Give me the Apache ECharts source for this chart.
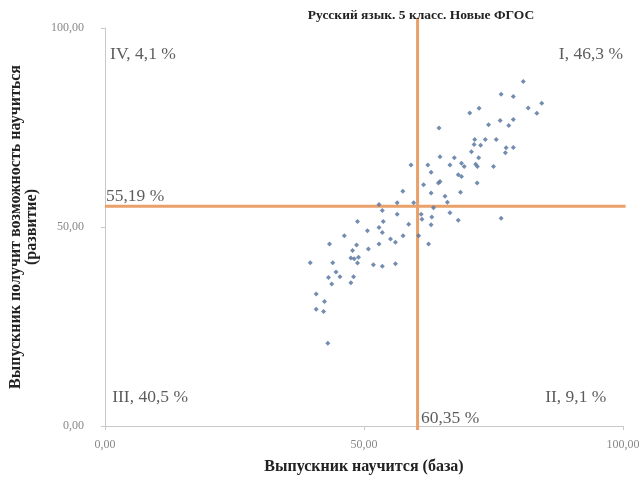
<!DOCTYPE html>
<html>
<head>
<meta charset="utf-8">
<script src="https://cdn.jsdelivr.net/npm/echarts@6/dist/echarts.min.js"></script>
<style>html,body{margin:0;padding:0;background:#fff;}#c{width:644px;height:480px;}</style>
</head>
<body>
<div id="c"></div>
<script>
var titleText = 'Русский язык. 5 класс. Новые ФГОС';
var xAxisName = 'Выпускник научится (база)';
var yAxisName = 'Выпускник получит возможность научиться\n(развитие)';
var xTicks = [0, 50, 100];
var yTicks = [0, 50, 100];
var xCut = 60.35;
var yCut = 55.19;
var xs = [80.75,76.48,78.83,72.22,70.42,81.70,84.32,83.37,76.29,78.83,77.95,74.05,64.49,71.38,73.42,75.53,71.26,72.52,78.83,77.44,77.30,70.75,64.68,67.44,72.14,66.60,68.83,69.35,71.57,71.89,75.01,59.08,62.33,62.96,68.20,68.83,64.68,64.38,61.51,71.84,57.50,62.96,68.64,65.64,66.10,56.41,59.60,52.91,63.42,53.54,56.41,61.05,61.19,63.10,66.60,68.20,76.48,48.76,53.73,58.64,62.96,50.67,52.91,53.54,46.21,55.12,57.55,60.55,43.35,47.80,50.86,52.91,56.08,62.47,48.57,47.48,48.95,48.13,39.64,43.98,48.76,51.82,53.54,56.08,44.61,43.16,45.37,47.99,43.79,47.48,40.78,42.39,40.78,42.20,43.02];
var ys = [86.53,83.37,82.80,79.83,78.66,79.90,81.07,78.59,76.75,77.00,75.51,75.68,74.86,71.96,71.96,71.96,70.72,70.55,69.98,69.90,68.66,68.91,67.67,67.42,67.42,65.58,66.00,65.19,65.76,65.19,65.19,65.58,65.58,63.77,63.10,62.70,61.46,61.04,60.62,61.04,58.98,58.56,58.73,57.74,56.25,56.08,56.08,55.66,54.84,54.17,53.18,53.18,51.94,52.53,53.60,51.69,52.18,51.36,51.36,50.69,50.55,49.06,49.88,48.64,47.82,46.97,47.82,47.82,45.73,44.09,44.49,45.73,46.15,45.73,45.48,42.18,42.43,42.01,41.02,41.02,40.94,40.52,40.12,40.77,38.71,37.30,37.47,37.47,35.66,35.98,33.18,31.27,29.35,28.78,20.77];
var quadLabels = ['IV, 4,1 %', 'I, 46,3 %', 'III, 40,5 %', 'II, 9,1 %'];
var cutLabels = ['55,19 %', '60,35 %'];

var serif = '"Liberation Serif", "DejaVu Serif", serif';
function fmt(v){ return v.toFixed(2).replace('.', ','); }

var pts = xs.map(function(x,i){ return [x, ys[i]]; });
var labelPts = [
  {value:[1.0, 93.3], text: quadLabels[0], align:'left'},
  {value:[100, 93.3], text: quadLabels[1], align:'right'},
  {value:[1.4, 7.2], text: quadLabels[2], align:'left'},
  {value:[96.8, 7.2], text: quadLabels[3], align:'right'},
  {value:[0.2, 57.6], text: cutLabels[0], align:'left'},
  {value:[61.0, 1.8], text: cutLabels[1], align:'left'}
];

var chart = echarts.init(document.getElementById('c'), null, {renderer:'canvas'});
chart.setOption({
  backgroundColor:'#fff',
  animation:false,
  title:{text:titleText, left:416, top:4, textAlign:'center',
    textStyle:{fontFamily:serif, fontSize:13.5, fontWeight:'bold', color:'#222'}},
  grid:{left:100, right:21, top:28, bottom:49},
  xAxis:{type:'value', min:0, max:100, interval:50,
    name:xAxisName, nameLocation:'middle', nameGap:33,
    nameTextStyle:{fontFamily:serif, fontSize:16, fontWeight:'bold', color:'#222'},
    axisLine:{show:true, lineStyle:{color:'#c8c8c8'}},
    axisTick:{show:true, length:4, lineStyle:{color:'#c8c8c8'}},
    splitLine:{show:false},
    axisLabel:{fontFamily:serif, fontSize:12, color:'#888', margin:13, formatter:fmt}},
  yAxis:{type:'value', min:0, max:100, interval:50,
    name:yAxisName, nameLocation:'middle', nameGap:56, nameRotate:90,
    nameTextStyle:{fontFamily:serif, fontSize:16, fontWeight:'bold', color:'#222', lineHeight:16},
    axisLine:{show:true, lineStyle:{color:'#c8c8c8'}},
    axisTick:{show:true, length:4, lineStyle:{color:'#c8c8c8'}},
    splitLine:{show:false},
    axisLabel:{fontFamily:serif, fontSize:12, color:'#888', margin:21, formatter:fmt}},
  series:[
    {type:'line', data:[[0,yCut],[100.5,yCut]], symbol:'none', clip:false,
     lineStyle:{color:'#e9a06a', width:3}, z:2, silent:true},
    {type:'line', data:[[xCut,-1],[xCut,102.5]], symbol:'none', clip:false,
     lineStyle:{color:'#e9a06a', width:3}, z:2, silent:true},
    {type:'scatter', data:pts, symbol:'diamond', symbolSize:5,
     itemStyle:{color:'#5a78a2', opacity:0.85}, z:3},
    {type:'scatter', data:labelPts.map(function(p){ return {value:p.value,
       label:{show:true, formatter:p.text, position:'inside', align:p.align,
         verticalAlign:'middle', fontFamily:serif, fontSize:17.5, color:'#333'}}; }),
     symbolSize:1, itemStyle:{color:'rgba(0,0,0,0)'}, z:4, silent:true}
  ]
});
</script>
</body>
</html>
